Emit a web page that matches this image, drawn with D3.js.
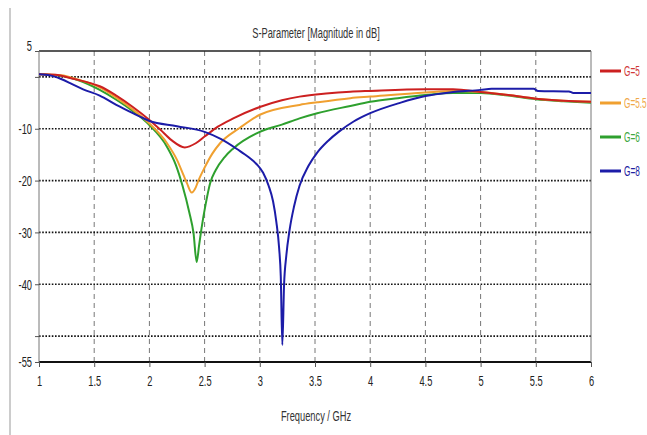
<!DOCTYPE html>
<html><head><meta charset="utf-8">
<script src="https://cdn.jsdelivr.net/npm/d3@7"></script>
<style>body{margin:0;background:#fff}svg{display:block}text{font-family:"Liberation Sans",Arial,sans-serif}</style>
</head><body><div id="chart"></div>
<script>
const xTicks = [1,1.5,2,2.5,3,3.5,4,4.5,5,5.5,6];
const yTickLabels = [5,-10,-20,-30,-40,-55];
const yGrid = [0,-10,-20,-30,-40,-50];
const seriesNames = ["G=5","G=5.5","G=6","G=8"];
const seriesColors = ["#cc2020","#f0a030","#2ea02e","#1c1ca8"];
const legendTextColors = ["#d03838","#f0a848","#40a840","#2020a0"];

const g5Freq = [1.0,1.15,1.3,1.45,1.55,1.7,1.85,2.0,2.1,2.2,2.32,2.42,2.5,2.62,2.76,3.0,3.2,3.36,3.6,3.82,4.0,4.5,4.75,5.0,5.25,5.5,5.75,6.0];
const g5Db   = [0.5,0.4,-0.3,-1.1,-1.8,-3.6,-5.8,-8.3,-10.2,-12.2,-13.6,-12.8,-11.5,-9.6,-8.0,-5.8,-4.5,-3.8,-3.2,-2.85,-2.7,-2.4,-2.4,-2.9,-3.5,-4.2,-4.6,-4.8];

const g55Freq = [1.0,1.2,1.35,1.55,1.7,1.85,2.0,2.16,2.25,2.31,2.34,2.383,2.42,2.44,2.5,2.57,2.64,2.82,3.0,3.36,3.52,3.82,4.0,4.5,4.75,5.0,5.25,5.5,5.75,6.0];
const g55Db   = [0.5,0.3,-0.5,-2.0,-4.0,-6.3,-9.0,-12.8,-16.0,-19.0,-20.5,-22.3,-21.3,-20.2,-17.5,-14.8,-12.8,-9.8,-7.3,-5.4,-4.9,-4.1,-3.8,-3.0,-2.7,-2.9,-3.5,-4.2,-4.6,-4.8];

const g6Freq = [1.0,1.2,1.35,1.55,1.7,1.85,2.0,2.16,2.24,2.3,2.36,2.40,2.428,2.45,2.47,2.51,2.55,2.6,2.68,2.76,3.0,3.2,3.36,3.52,3.82,4.0,4.25,4.5,4.75,5.0,5.25,5.5,5.75,6.0];
const g6Db   = [0.5,0.2,-0.6,-2.5,-4.4,-6.6,-9.3,-13.5,-17.0,-21.0,-26.0,-30.2,-35.7,-32.5,-29.5,-24.5,-20.5,-18.0,-15.5,-13.8,-10.6,-9.2,-8.0,-7.0,-5.6,-4.8,-4.1,-3.5,-3.1,-3.1,-3.6,-4.3,-4.7,-5.0];

const g8Freq = [1.0,1.1,1.2,1.3,1.4,1.55,1.7,1.85,2.0,2.25,2.5,2.65,2.8,2.9,2.97,3.03,3.08,3.12,3.15,3.175,3.19,3.204,3.22,3.24,3.27,3.31,3.36,3.44,3.52,3.62,3.72,3.85,4.0,4.27,4.5,4.72,5.0,5.1,5.48,5.52,5.8,5.84,6.0];
const g8Db   = [0.5,0.3,-0.4,-1.4,-2.4,-3.6,-5.4,-7.0,-8.5,-9.5,-10.6,-12.0,-14.0,-15.5,-16.8,-18.5,-21.0,-24.0,-28.0,-33.0,-38.5,-51.7,-40.0,-34.5,-29.5,-25.0,-21.0,-17.2,-14.6,-12.3,-10.5,-8.6,-7.0,-5.0,-3.7,-3.0,-2.5,-2.3,-2.3,-2.7,-2.8,-3.1,-3.1];

const allFreq = [g5Freq,g55Freq,g6Freq,g8Freq];
const allDb = [g5Db,g55Db,g6Db,g8Db];

const W = 647, H = 435;
const svg = d3.select("#chart").append("svg").attr("width",W).attr("height",H);
svg.append("rect").attr("width",W).attr("height",H).attr("fill","#fff");

const x = d3.scaleLinear().domain([1,6]).range([39,591]);
const y = d3.scaleLinear().domain([5,-55]).range([51,362]);
const SX = 0.62;

// left page border
svg.append("line").attr("x1",10).attr("x2",10).attr("y1",8).attr("y2",H).attr("stroke","#999").attr("stroke-width",1);

// vertical dashed grid
svg.append("g").selectAll("line").data(xTicks.slice(1,-1)).join("line")
  .attr("x1",d=>x(d)).attr("x2",d=>x(d)).attr("y1",y(5)).attr("y2",y(-55))
  .attr("stroke","#777").attr("stroke-width",1).attr("stroke-dasharray","5,4");

// horizontal dotted grid
svg.append("g").selectAll("line").data(yGrid).join("line")
  .attr("x1",x(1)).attr("x2",x(6)).attr("y1",d=>y(d)).attr("y2",d=>y(d))
  .attr("stroke","#111").attr("stroke-width",1.6).attr("stroke-dasharray","1.6,1.6");

// frame
svg.append("line").attr("x1",x(1)).attr("x2",x(6)).attr("y1",y(5)).attr("y2",y(5)).attr("stroke","#222").attr("stroke-width",1.5);
svg.append("line").attr("x1",x(1)).attr("x2",x(6)).attr("y1",y(-55)).attr("y2",y(-55)).attr("stroke","#111").attr("stroke-width",2);
svg.append("line").attr("x1",x(1)).attr("x2",x(1)).attr("y1",y(5)).attr("y2",y(-55)).attr("stroke","#777").attr("stroke-width",1);
svg.append("line").attr("x1",x(6)).attr("x2",x(6)).attr("y1",y(5)).attr("y2",y(-55)).attr("stroke","#777").attr("stroke-width",1);

// x axis
const xAxis = svg.append("g").attr("transform",`translate(0,${y(-55)})`)
  .call(d3.axisBottom(x).tickValues(xTicks).tickFormat(d3.format("")).tickSize(5).tickPadding(8));
xAxis.select(".domain").remove();
xAxis.selectAll(".tick line").attr("stroke","#555");
xAxis.selectAll("text").attr("font-size",15).attr("fill","#222")
  .attr("font-family","Liberation Sans, Arial, sans-serif")
  .attr("transform",`scale(${SX},1)`);

// y axis
const yAxis = svg.append("g").attr("transform",`translate(${x(1)},0)`)
  .call(d3.axisLeft(y).tickValues([5,0,-10,-20,-30,-40,-50,-55])
    .tickFormat(d => yTickLabels.includes(d) ? String(d) : "").tickSize(4).tickPadding(3));
yAxis.select(".domain").remove();
yAxis.selectAll(".tick line").attr("stroke","#555");
yAxis.selectAll("text").attr("font-size",15).attr("fill","#222")
  .attr("font-family","Liberation Sans, Arial, sans-serif")
  .attr("x",-7/SX).attr("transform",`scale(${SX},1)`);
yAxis.selectAll(".tick").filter(d=>d===5).select("text").attr("dy","-0.05em");

// curves
svg.append("defs").append("clipPath").attr("id","clip").append("rect")
  .attr("x",x(1)).attr("y",y(5)).attr("width",x(6)-x(1)).attr("height",y(-55)-y(5));
const line = d3.line().x(d=>x(d[0])).y(d=>y(d[1])).curve(d3.curveMonotoneX);
const plot = svg.append("g").attr("clip-path","url(#clip)");
[2,1,0,3].forEach(i=>{
  const pts = allFreq[i].map((f,j)=>[f,allDb[i][j]]);
  plot.append("path").datum(pts).attr("d",line).attr("fill","none")
    .attr("stroke",seriesColors[i]).attr("stroke-width",2).attr("stroke-linejoin","round");
});

// title
svg.append("text").attr("transform",`translate(316,38) scale(${SX},1)`)
  .attr("text-anchor","middle").attr("font-size",15).attr("fill","#333")
  .text("S-Parameter [Magnitude in dB]");
// x label
svg.append("text").attr("transform",`translate(316,421) scale(${SX},1)`)
  .attr("text-anchor","middle").attr("font-size",15).attr("fill","#333")
  .text("Frequency / GHz");

// legend
const legY = [71,103,137,171];
const leg = svg.append("g");
seriesNames.forEach((n,i)=>{
  leg.append("line").attr("x1",600).attr("x2",621).attr("y1",legY[i]).attr("y2",legY[i])
    .attr("stroke",seriesColors[i]).attr("stroke-width",3);
  leg.append("text").attr("transform",`translate(624,${legY[i]+5}) scale(0.55,1)`)
    .attr("font-size",15).attr("fill",legendTextColors[i]).text(n);
});
</script></body></html>
